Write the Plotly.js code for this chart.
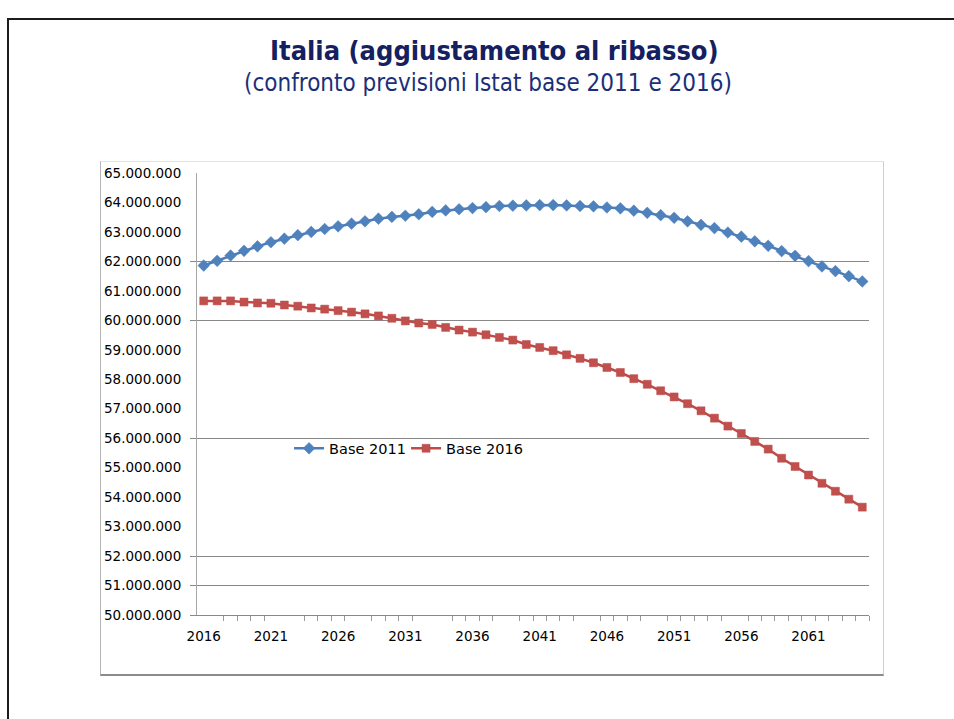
<!DOCTYPE html>
<html>
<head>
<meta charset="utf-8">
<script src="https://cdn.plot.ly/plotly-3.0.1.min.js"></script>
<style>
  html, body { margin: 0; padding: 0; background: #ffffff; }
  #wrap { position: relative; width: 954px; height: 719px; overflow: hidden; background: #fff; }
  #slide { position: absolute; left: 7px; top: 18px; width: 1200px; height: 900px;
           border-top: 2px solid #1c1c1c; border-left: 2px solid #1c1c1c; }
  #box { position: absolute; left: 100px; top: 161px; width: 782px; height: 512px;
         border-top: 1px solid #e3e3e3; border-right: 1px solid #cfcfcf;
         border-left: 1px solid #b4b4b4; border-bottom: 2px solid #8c8c8c; }
  #chart { position: absolute; left: 0; top: 0; width: 954px; height: 719px; }
</style>
</head>
<body>
<div id="wrap">
  <div id="slide"></div>
  <div id="box"></div>
  <div id="chart"></div>
</div>
<script>
// ---- data ----
const years = [2016,2017,2018,2019,2020,2021,2022,2023,2024,2025,
               2026,2027,2028,2029,2030,2031,2032,2033,2034,2035,
               2036,2037,2038,2039,2040,2041,2042,2043,2044,2045,
               2046,2047,2048,2049,2050,2051,2052,2053,2054,2055,
               2056,2057,2058,2059,2060,2061,2062,2063,2064,2065];

const base2011 = [61860000,62020000,62200000,62360000,62510000,62650000,62770000,62890000,63000000,63100000,
                  63190000,63280000,63360000,63450000,63510000,63550000,63600000,63680000,63730000,63770000,
                  63810000,63840000,63880000,63890000,63900000,63910000,63910000,63900000,63880000,63870000,
                  63830000,63800000,63720000,63650000,63570000,63480000,63360000,63240000,63130000,62980000,
                  62840000,62680000,62530000,62350000,62190000,62010000,61830000,61670000,61500000,61320000];

const base2016 = [60660000,60660000,60660000,60620000,60590000,60580000,60520000,60480000,60420000,60380000,
                  60330000,60280000,60220000,60150000,60070000,59980000,59910000,59860000,59760000,59670000,
                  59600000,59510000,59420000,59330000,59180000,59080000,58970000,58830000,58710000,58560000,
                  58400000,58230000,58020000,57830000,57610000,57400000,57170000,56930000,56680000,56410000,
                  56160000,55890000,55630000,55320000,55040000,54750000,54470000,54200000,53930000,53660000];

const seriesNames = ["Base 2011", "Base 2016"];
const xTickYears = [2016,2021,2026,2031,2036,2041,2046,2051,2056,2061];
const xTickLabels = ["2016","2021","2026","2031","2036","2041","2046","2051","2056","2061"];
const yTickValues = [50000000,51000000,52000000,53000000,54000000,55000000,56000000,57000000,
                     58000000,59000000,60000000,61000000,62000000,63000000,64000000,65000000];
const yGridValues = [50000000,51000000,52000000,56000000,60000000,62000000];
const xBoundaryTicks = [2017.5,2018.5,2019.5,2020.5,2023.5,2024.5,2025.5,2026.5,2028.5,2029.5,2030.5,2031.5,
                        2034.5,2035.5,2036.5,2037.5,2039.5,2040.5,2041.5,2042.5,2043.5,2045.5,2046.5,2047.5,2048.5,
                        2050.5,2051.5,2052.5,2053.5,2054.5,2056.5,2057.5,2058.5,2059.5,2060.5,2061.5,2062.5,
                        2063.5,2064.5,2065.5];

const titleText = "<b>Italia (aggiustamento al ribasso)</b>";
const subtitleText = "(confronto previsioni Istat base 2011 e 2016)";

// ---- traces ----
const traces = [
  {
    x: years, y: base2011, name: seriesNames[0], type: "scatter", mode: "lines+markers",
    line: { color: "#4a7ebb", width: 2.5 },
    marker: { symbol: "diamond", size: 9, color: "#4f81bd", line: { color: "#4a7ebb", width: 0.5 } }
  },
  {
    x: years, y: base2016, name: seriesNames[1], type: "scatter", mode: "lines+markers",
    line: { color: "#be4b48", width: 2.5 },
    marker: { symbol: "square", size: 8, color: "#c0504d", line: { color: "#be4b48", width: 0.5 } }
  }
];

const axisFont = { family: "DejaVu Sans, Verdana, sans-serif", size: 13.5, color: "#000" };
const titleFamily = "Liberation Sans Narrow, DejaVu Sans Condensed, Arial Narrow, sans-serif";

const layout = {
  width: 954, height: 719,
  margin: { l: 197, r: 85, t: 173, b: 104, pad: 0 },
  paper_bgcolor: "rgba(0,0,0,0)",
  plot_bgcolor: "rgba(0,0,0,0)",
  separators: ",.",
  showlegend: true,
  legend: {
    orientation: "h", x: 0.137, y: 0.377, xanchor: "left", yanchor: "middle",
    bgcolor: "rgba(0,0,0,0)", font: { family: "DejaVu Sans, sans-serif", size: 14.5, color: "#000" },
    itemwidth: 30, entrywidth: 72, tracegroupgap: 0
  },
  xaxis: {
    type: "linear", range: [2015.5, 2065.5], fixedrange: true,
    tickmode: "array", tickvals: xTickYears, ticktext: xTickLabels,
    ticks: "", showgrid: false, zeroline: false,
    showline: true, linecolor: "#888888", linewidth: 1,
    tickfont: axisFont, ticklabelstandoff: 9,
    minor: { tickmode: "array", tickvals: xBoundaryTicks, ticks: "outside", ticklen: 5,
             tickcolor: "#9a9a9a", tickwidth: 1, showgrid: false }
  },
  yaxis: {
    range: [50000000, 65000000], fixedrange: true,
    tickmode: "array", tickvals: yTickValues, tickformat: ",.0f",
    ticks: "", showgrid: false, zeroline: false,
    showline: true, linecolor: "#a6a6a6", linewidth: 1,
    tickfont: axisFont, ticklabelstandoff: 12,
    minor: { tickmode: "array", tickvals: yGridValues, ticks: "outside", ticklen: 6,
             tickcolor: "#888888", tickwidth: 1, showgrid: true, gridcolor: "#888888", gridwidth: 1 }
  },
  annotations: [
    { text: titleText, xref: "paper", yref: "paper", x: 0.443, y: 1.277, xanchor: "center", yanchor: "middle",
      showarrow: false, font: { family: titleFamily, size: 27, color: "#142060" } },
    { text: subtitleText, xref: "paper", yref: "paper", x: 0.433, y: 1.203, xanchor: "center", yanchor: "middle",
      showarrow: false, font: { family: titleFamily, size: 24, color: "#1b2f78" } }
  ]
};

Plotly.newPlot("chart", traces, layout, { displayModeBar: false, staticPlot: true });
</script>
</body>
</html>
